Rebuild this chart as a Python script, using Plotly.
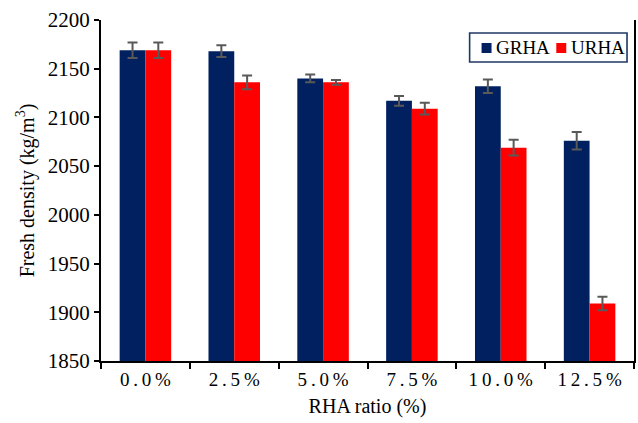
import plotly.graph_objects as go

# RHA replacement ratios and measured fresh density (kg/m3)
ratios = ["0.0%", "2.5%", "5.0%", "7.5%", "10.0%", "12.5%"]
grha = [2169, 2168, 2140, 2117, 2132, 2076]
grha_err = [8, 6, 4, 5, 7, 9]
urha = [2169, 2136, 2136, 2109, 2069, 1909]
urha_err = [8, 7, 2.5, 6, 8, 7]

series_names = ["GRHA", "URHA"]
series_colors = ["#002060", "#FF0000"]

# spaced-out tick labels
tick_text = ["\u2009".join(r) for r in ratios]

FONT = "Liberation Serif, Times New Roman, serif"
err_style = dict(type="data", thickness=2, width=5, color="#595959")

fig = go.Figure()
for name, color, vals, errs in zip(series_names, series_colors, [grha, urha], [grha_err, urha_err]):
    fig.add_trace(go.Bar(
        x=ratios, y=vals, name=name,
        marker=dict(color=color, line=dict(width=0)),
        error_y=dict(array=errs, **err_style),
    ))

# compact boxed legend: square swatch right next to each label
legend_shapes = [dict(type="rect", xref="paper", yref="paper",
                      x0=0.6916, x1=0.9869, y0=0.8768, y1=0.9619,
                      line=dict(color="#1F3864", width=1.6), fillcolor="white", layer="above")]
legend_notes = []
for i, (name, color) in enumerate(zip(series_names, series_colors)):
    x0 = 0.714 + i * 0.1402
    legend_shapes.append(dict(type="rect", xref="paper", yref="paper",
                              x0=x0, x1=x0 + 0.0187, y0=0.9032, y1=0.9326,
                              line=dict(width=0), fillcolor=color, layer="above"))
    legend_notes.append(dict(xref="paper", yref="paper", x=x0 + 0.0235, y=0.9179,
                             xanchor="left", yanchor="middle", showarrow=False,
                             text=name, font=dict(family=FONT, size=19, color="black")))

fig.update_layout(
    width=638, height=423,
    margin=dict(l=101, r=2, t=20, b=62),
    paper_bgcolor="white", plot_bgcolor="white",
    barmode="group", bargap=0.42, bargroupgap=0,
    font=dict(family=FONT, size=19, color="black"),
    showlegend=False,
    shapes=legend_shapes,
    annotations=legend_notes,
)
fig.update_xaxes(
    tickmode="array", tickvals=ratios, ticktext=tick_text,
    showline=True, linecolor="black", linewidth=2,
    ticks="outside", ticklen=6, tickwidth=1.5, tickcolor="black",
    tickson="boundaries", showgrid=False,
    title=dict(text="RHA ratio (%)", font=dict(size=20), standoff=10),
    tickfont=dict(size=19),
)
fig.update_yaxes(
    range=[1850, 2200], dtick=50,
    showline=True, linecolor="black", linewidth=2, mirror=True,
    ticks="outside", ticklen=5, tickwidth=1.5, tickcolor="black",
    showgrid=False, zeroline=False,
    title=dict(text="Fresh density (kg/m<sup>3</sup>)", font=dict(size=20), standoff=8),
    tickfont=dict(size=21),
)

fig.write_html("out.html")
